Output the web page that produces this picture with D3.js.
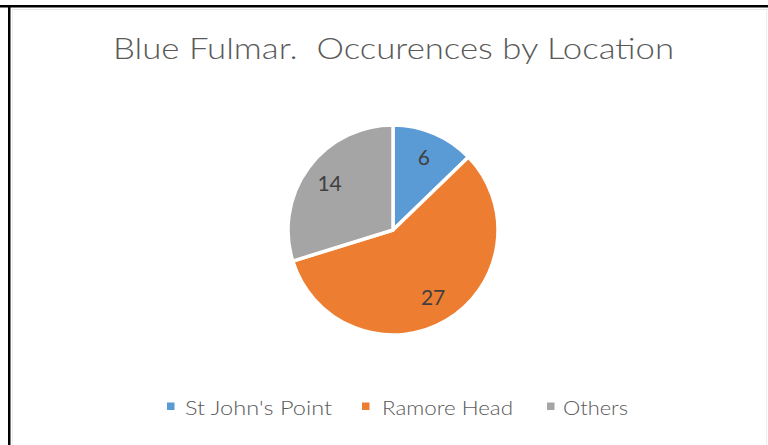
<!DOCTYPE html>
<html>
<head>
<meta charset="utf-8">
<script src="https://cdn.jsdelivr.net/npm/d3@7"></script>
<style>
  html, body { margin: 0; padding: 0; background: #fff; }
  svg { display: block; }
  text { white-space: pre; }
</style>
</head>
<body>
<svg id="chart" width="768" height="445"></svg>
<script>
const categories = ["St John's Point", "Ramore Head", "Others"];
const values = [6, 27, 14];
const colors = ["#5B9BD5", "#ED7D31", "#A5A5A5"];
const titleText = "Blue Fulmar.  Occurences by Location";

const svg = d3.select("#chart");
const W = 768, H = 445;

// outer frame (cropped screenshot: black top/left border)
svg.append("rect").attr("x", 0).attr("y", 0).attr("width", W).attr("height", H).attr("fill", "#fff");
svg.append("rect").attr("x", 0).attr("y", 5).attr("width", W).attr("height", 2.5).attr("fill", "#000");
svg.append("rect").attr("x", 8).attr("y", 5).attr("width", 2.5).attr("height", H).attr("fill", "#000");
svg.append("line").attr("x1", 12).attr("x2", W).attr("y1", 9.5).attr("y2", 9.5).attr("stroke", "#e6e6e6").attr("stroke-width", 1);
svg.append("line").attr("x1", 12.5).attr("x2", 12.5).attr("y1", 9).attr("y2", H).attr("stroke", "#eeeeee").attr("stroke-width", 1);
svg.append("line").attr("x1", 766.5).attr("x2", 766.5).attr("y1", 9).attr("y2", H).attr("stroke", "#eeeeee").attr("stroke-width", 1);

const font = "Lato, 'Open Sans', 'DejaVu Sans', sans-serif";

// title
svg.append("text")
  .attr("x", 393.5).attr("y", 59)
  .attr("text-anchor", "middle")
  .attr("font-family", font)
  .attr("font-weight", 300)
  .attr("font-size", 29)
  .attr("fill", "#595959")
  .attr("textLength", 561)
  .attr("lengthAdjust", "spacingAndGlyphs")
  .attr("xml:space", "preserve")
  .text(titleText);

// pie
const cx = 393, cy = 230, R = 105;
const pie = d3.pie().sort(null).value(d => d)(values);
const arc = d3.arc().innerRadius(0).outerRadius(R);
const labelArc = d3.arc().innerRadius(R * 0.75).outerRadius(R * 0.75);

const g = svg.append("g").attr("transform", `translate(${cx},${cy})`);
g.selectAll("path.slice").data(pie).enter().append("path")
  .attr("class", "slice")
  .attr("d", arc)
  .attr("fill", (d, i) => colors[i])
  .attr("stroke", "#fff")
  .attr("stroke-width", 3.5)
  .attr("stroke-linejoin", "round");

g.selectAll("text.lbl").data(pie).enter().append("text")
  .attr("class", "lbl")
  .attr("transform", d => { const c = labelArc.centroid(d); return `translate(${c[0]},${c[1]})`; })
  .attr("text-anchor", "middle")
  .attr("dy", "0.36em")
  .attr("font-family", font)
  .attr("font-weight", 400)
  .attr("font-size", 21)
  .attr("fill", "#404040")
  .text(d => d.data);

// legend
const legendX = [167, 362, 547];
const legendTextW = [147, 131, 65];
const leg = svg.append("g");
categories.forEach((c, i) => {
  leg.append("rect")
    .attr("x", legendX[i]).attr("y", 402.5)
    .attr("width", 7.5).attr("height", 7.5)
    .attr("fill", colors[i]);
  leg.append("text")
    .attr("x", legendX[i] + (i === 2 ? 16 : (i === 1 ? 20 : 18))).attr("y", 414.5)
    .attr("font-family", font)
    .attr("font-weight", 300)
    .attr("font-size", 19.5)
    .attr("fill", "#595959")
    .attr("textLength", legendTextW[i])
    .attr("lengthAdjust", "spacingAndGlyphs")
    .text(c);
});
</script>
</body>
</html>
